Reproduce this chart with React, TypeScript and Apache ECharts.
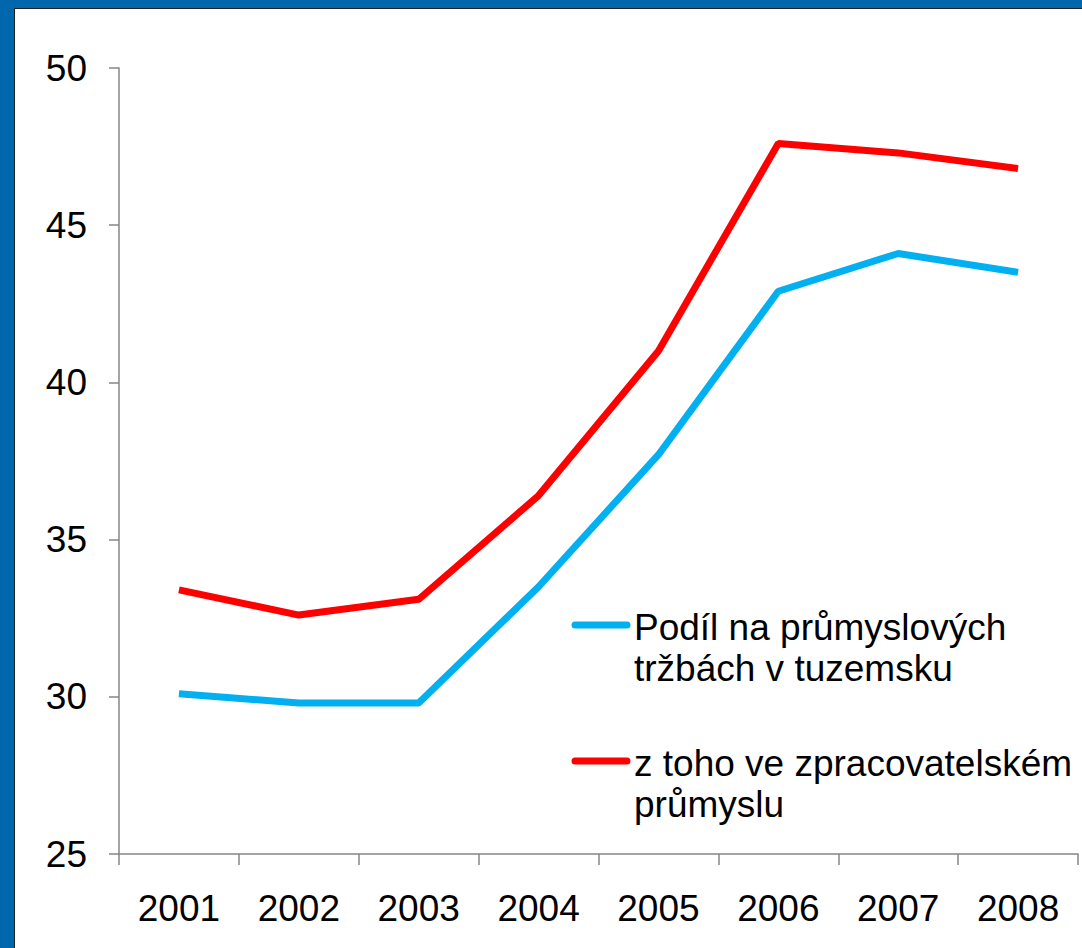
import React, { useEffect, useRef } from "react";
import * as echarts from "echarts";

const years = ["2001", "2002", "2003", "2004", "2005", "2006", "2007", "2008"];
const podil = [30.1, 29.8, 29.8, 33.5, 37.7, 42.9, 44.1, 43.5];
const zpracovatelsky = [33.4, 32.6, 33.1, 36.4, 41.0, 47.6, 47.3, 46.8];
const seriesNames = ["Podíl na průmyslových\ntržbách v tuzemsku", "z toho ve zpracovatelském\nprůmyslu"];
const seriesColors = ["#00b0f0", "#ff0000"];
const yMin = 25;
const yMax = 50;
const yStep = 5;

const FONT = "'Liberation Sans', Arial, sans-serif";

export default function App() {
  const ref = useRef<HTMLDivElement>(null);
  useEffect(() => {
    document.body.style.margin = "0";
    const chart = echarts.init(ref.current!, null, { renderer: "svg" });
    const legendItems: any[] = [];
    const legendY = [616, 752];
    seriesNames.forEach((name, i) => {
      const y = legendY[i];
      legendItems.push({
        type: "line",
        shape: { x1: 560, y1: y, x2: 612, y2: y },
        style: { stroke: seriesColors[i], lineWidth: 7, lineCap: "round" },
      });
      name.split("\n").forEach((ln, j) => {
        legendItems.push({
          type: "text",
          x: 619,
          y: y + 2 + j * 41,
          style: {
            text: ln,
            fill: "#000",
            font: `37px ${FONT}`,
            textVerticalAlign: "middle",
            verticalAlign: "middle",
          },
        });
      });
    });
    chart.setOption({
      animation: false,
      backgroundColor: "#ffffff",
      grid: { left: 104, top: 59, right: 4, bottom: 94 },
      xAxis: {
        type: "category",
        data: years,
        boundaryGap: true,
        axisLine: { lineStyle: { color: "#868686", width: 1.5 } },
        axisTick: { show: true, length: 11, lineStyle: { color: "#868686", width: 1.5 } },
        axisLabel: { color: "#000", fontSize: 37, fontFamily: FONT, margin: 36 },
      },
      yAxis: {
        type: "value",
        min: yMin,
        max: yMax,
        interval: yStep,
        splitLine: { show: false },
        axisLine: { show: true, lineStyle: { color: "#868686", width: 1.5 } },
        axisTick: { show: true, length: 10, lineStyle: { color: "#868686", width: 1.5 } },
        axisLabel: { color: "#000", fontSize: 37, fontFamily: FONT, margin: 32 },
      },
      series: [
        {
          name: seriesNames[0],
          type: "line",
          data: podil,
          symbol: "none",
          lineStyle: { color: seriesColors[0], width: 7 },
          itemStyle: { color: seriesColors[0] },
        },
        {
          name: seriesNames[1],
          type: "line",
          data: zpracovatelsky,
          symbol: "none",
          lineStyle: { color: seriesColors[1], width: 7 },
          itemStyle: { color: seriesColors[1] },
        },
      ],
      graphic: legendItems,
    });
    return () => chart.dispose();
  }, []);
  return (
    <div style={{ position: "relative", width: 1082, height: 948, background: "#0067ac", overflow: "hidden" }}>
      <div
        style={{
          position: "absolute",
          left: 14,
          top: 8,
          width: 1068,
          height: 940,
          background: "#222",
        }}
      />
      <div
        ref={ref}
        style={{ position: "absolute", left: 15, top: 9, width: 1067, height: 939, background: "#fff" }}
      />
    </div>
  );
}
